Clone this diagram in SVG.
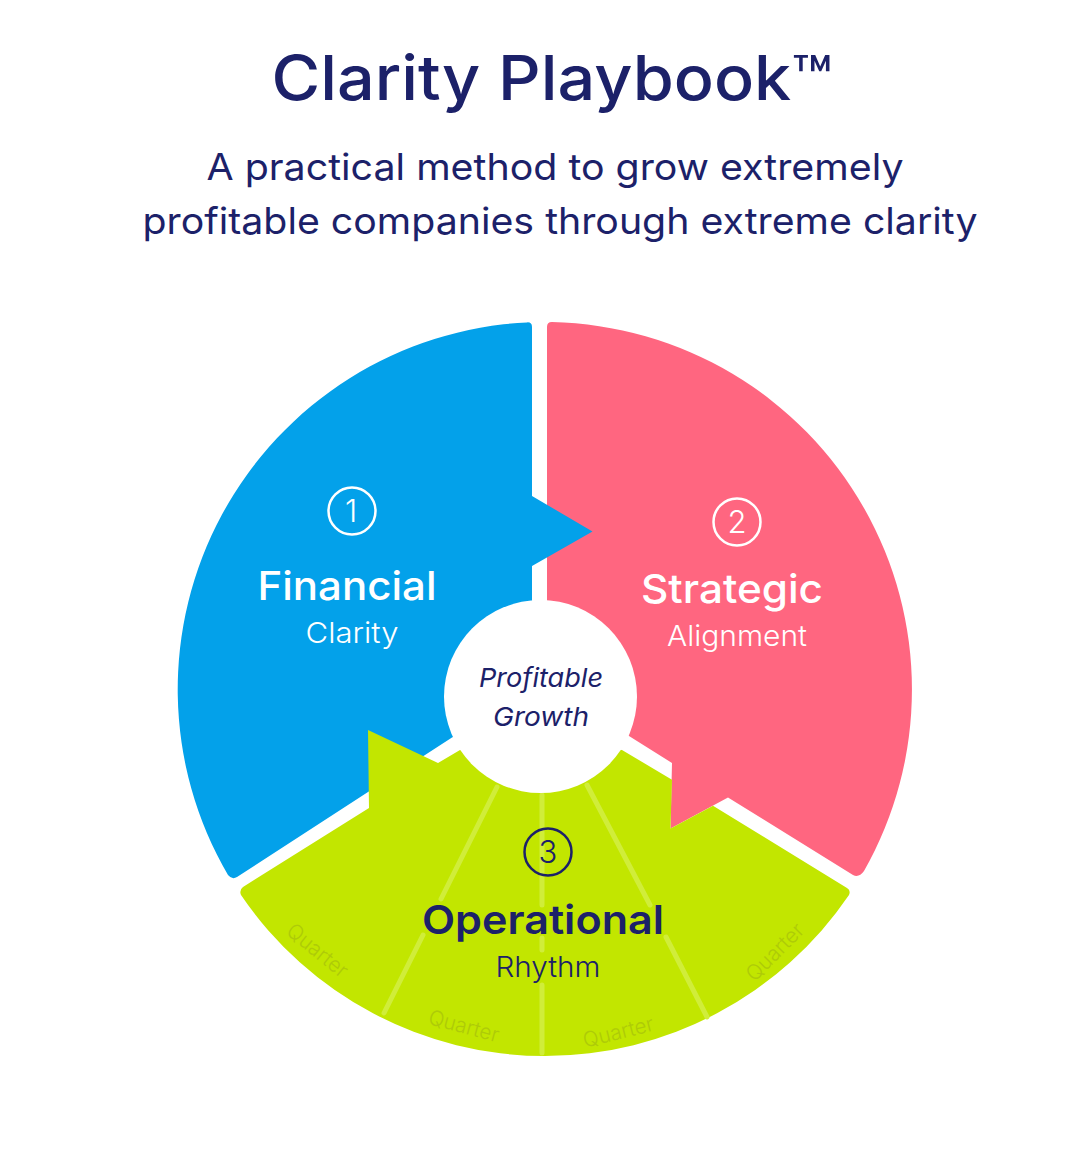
<svg xmlns="http://www.w3.org/2000/svg" width="1089" height="1171" viewBox="0 0 1089 1171">
<style>
text{font-family:"Inter","Liberation Sans",sans-serif;text-anchor:middle}
.navy{fill:#1c2169}.white{fill:#fff}
.title{font-size:62px;font-weight:500}
.sub{font-size:37px;font-weight:400}
.head{font-size:40px;font-weight:500}
.tag{font-size:29px;font-weight:300}
.core{font-size:26px;font-style:italic;font-weight:400}
.num{font-size:31px;font-weight:300}
.q{font-size:21px;font-weight:300;fill:#aecb08}
.ring{fill:none;stroke-width:2.5}
.div{fill:none;stroke:#d0ed3a;stroke-width:5;stroke-linecap:round}
</style>
<rect width="1089" height="1171" fill="#fff"/>
<g id="header">
<text class="title navy" x="552" y="100" textLength="561" lengthAdjust="spacingAndGlyphs">Clarity Playbook™</text>
<text class="sub navy" x="555" y="180" textLength="697" lengthAdjust="spacingAndGlyphs">A practical method to grow extremely</text>
<text class="sub navy" x="560" y="234" textLength="835" lengthAdjust="spacingAndGlyphs">profitable companies through extreme clarity</text>
</g>
<g id="strategic">
<path fill="#ff6680" d="M547 327Q547 322 552 322.100A367.500 367.500 0 0 1 864 871Q859 878 853 875L728 797.500L670.500 828.500L672 763L629 736L560 650L547 600Z"/>
<circle class="ring" stroke="#fff" cx="737" cy="522" r="23.500"/>
<text class="num white" x="737" y="533">2</text>
<text class="head white" x="732" y="603" textLength="182" lengthAdjust="spacingAndGlyphs">Strategic</text>
<text class="tag white" x="737" y="646" textLength="140" lengthAdjust="spacingAndGlyphs">Alignment</text>
</g>
<g id="financial">
<path fill="#03a1ea" d="M532 327Q532 322 527 322.400A367.500 367.500 0 0 0 228 875Q232 880 237 877L452 737.500L540 690L532 600V566L592.500 531.500L532 496Z"/>
<circle class="ring" stroke="#fff" cx="352" cy="511" r="23.500"/>
<text class="num white" x="351" y="522">1</text>
<text class="head white" x="347" y="600" textLength="179" lengthAdjust="spacingAndGlyphs">Financial</text>
<text class="tag white" x="352" y="643" textLength="93" lengthAdjust="spacingAndGlyphs">Clarity</text>
</g>
<g id="operational">
<path fill="#c2e600" d="M243 887Q239 890 241 895A367.500 367.500 0 0 0 849 895Q851 890 847 888L713 805.700L670.500 828.500L672 779.700L622 750L540 740L460 750L438 763L368 730L369 808Z"/>
<g class="div">
<path d="M497 787L441 899M423 935L384 1013M542 795V905M542 938V950M542 985V1053M587 785L650 905M666 937L707 1017"/>
</g>
<circle class="ring" stroke="#1c2169" cx="548" cy="852" r="23.500"/>
<text class="num navy" x="548" y="863">3</text>
<text class="head navy" style="font-weight:600" x="543" y="934" textLength="242" lengthAdjust="spacingAndGlyphs">Operational</text>
<text class="tag navy" x="548" y="977" textLength="105" lengthAdjust="spacingAndGlyphs">Rhythm</text>
<text class="q" transform="translate(313 956) rotate(39)" textLength="72" lengthAdjust="spacingAndGlyphs">Quarter</text>
<text class="q" transform="translate(462 1033) rotate(15)" textLength="72" lengthAdjust="spacingAndGlyphs">Quarter</text>
<text class="q" transform="translate(620 1039) rotate(-14)" textLength="72" lengthAdjust="spacingAndGlyphs">Quarter</text>
<text class="q" transform="translate(780 957) rotate(-45)" textLength="72" lengthAdjust="spacingAndGlyphs">Quarter</text>
</g>
<g id="core">
<circle fill="#fff" cx="540.500" cy="696.500" r="96.500"/>
<text class="core navy" x="541" y="687" textLength="124" lengthAdjust="spacingAndGlyphs">Profitable</text>
<text class="core navy" x="541" y="726" textLength="96" lengthAdjust="spacingAndGlyphs">Growth</text>
</g>
<g id="connectors"/>
</svg>
